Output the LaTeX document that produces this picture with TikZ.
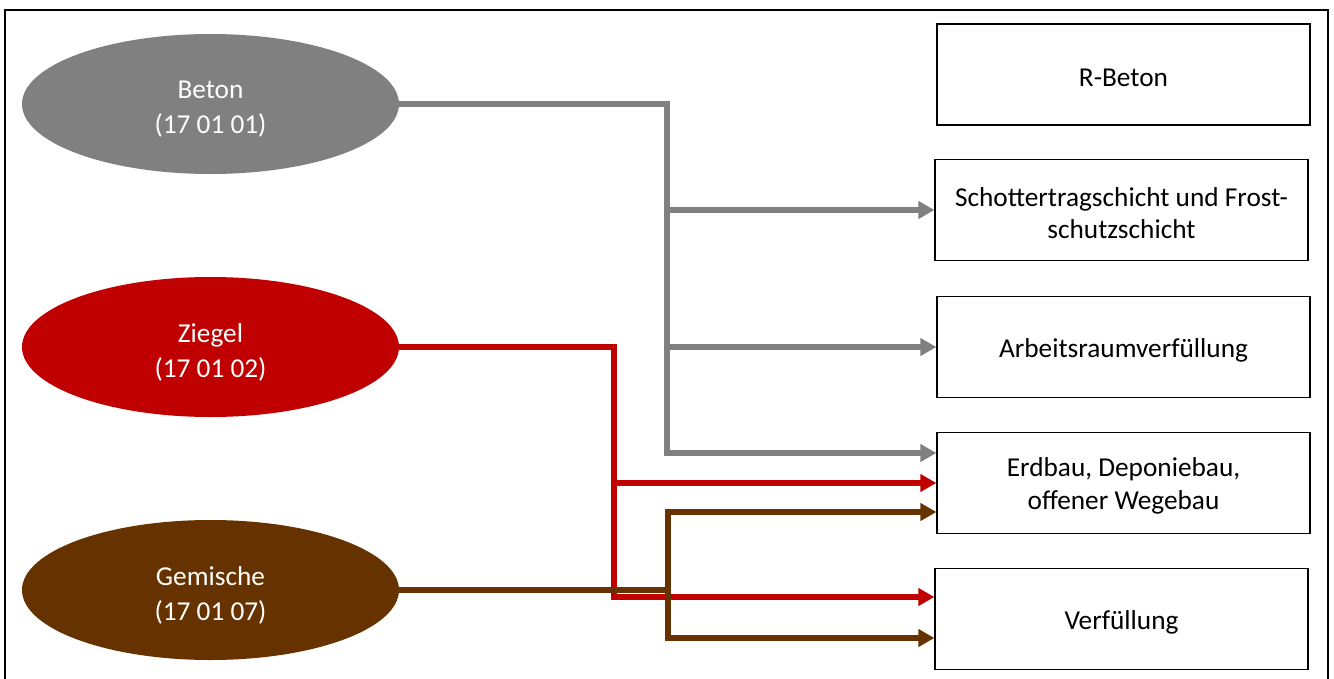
\documentclass[tikz,border=0pt]{standalone}
\usepackage{fontspec}
\setmainfont{Carlito}
\usetikzlibrary{shapes.geometric,arrows.meta}
\definecolor{cgray}{HTML}{808080}
\definecolor{cred}{HTML}{C00000}
\definecolor{cbrown}{HTML}{663300}
\tikzset{
  src/.style={ellipse, minimum width=377pt, minimum height=140pt, inner sep=0pt},
  srctxt/.style={text=white, align=center, yshift=-5.5pt, inner sep=0pt,
    font=\fontsize{27.3pt}{35pt}\selectfont},
  target/.style={draw=black, line width=1.2pt, minimum width=373pt, minimum height=101pt,
    inner sep=0pt},
  tgttxt/.style={align=center, yshift=-3pt, inner sep=0pt,
    font=\fontsize{27.3pt}{32.5pt}\selectfont},
  conn/.style={line width=5.3pt},
  arr/.style={conn, -{Triangle[length=16pt,width=17pt]}},
}
\begin{document}
\begin{tikzpicture}[x=1pt,y=-1pt]
\useasboundingbox (0,0) rectangle (1334,678);
\draw[line width=2pt] (5,700) -- (5,10) -- (1328,10) -- (1328,700);

\node[src, fill=cgray, label={[srctxt]center:{Beton\\(17 01 01)}}] (beton) at (210.5,104) {};
\node[src, fill=cred, label={[srctxt]center:{Ziegel\\(17 01 02)}}] (ziegel) at (210.5,347) {};
\node[src, fill=cbrown, label={[srctxt]center:{Gemische\\(17 01 07)}}] (gem) at (210.5,590) {};

\node[target, label={[tgttxt]center:{R-Beton}}] (rbeton) at (1123.5,74.5) {};
\node[target, label={[tgttxt]center:{Schottertragschicht und Frost-\\schutzschicht}}] (schotter) at (1121.5,210) {};
\node[target, label={[tgttxt]center:{Arbeitsraumverfüllung}}] (arbeit) at (1123.5,347) {};
\node[target, label={[tgttxt]center:{Erdbau, Deponiebau,\\offener Wegebau}}] (erd) at (1123.5,483) {};
\node[target, label={[tgttxt]center:{Verfüllung}}] (verf) at (1121.5,619) {};

\coordinate (gt) at (667,104);
\coordinate (rt) at (614,347);
\coordinate (bt) at (668,590);

% gray
\draw[arr, color=cgray] (beton.east) -- (gt) -- (gt |- 0,453) -- (erd.west |- 0,453);
\draw[arr, color=cgray] (gt |- schotter.west) -- (schotter.west);
\draw[arr, color=cgray] (gt |- arbeit.west) -- (arbeit.west);

% red
\draw[arr, color=cred] (ziegel.east) -- (rt) -- (rt |- 0,597) -- (verf.west |- 0,597);
\draw[arr, color=cred] (rt |- erd.west) -- (erd.west);

% brown
\draw[conn, color=cbrown] (gem.east) -- (bt);
\draw[arr, color=cbrown] (bt) -- (bt |- 0,512) -- (erd.west |- 0,512);
\draw[arr, color=cbrown] (bt) -- (bt |- 0,638) -- (verf.west |- 0,638);
\end{tikzpicture}
\end{document}
